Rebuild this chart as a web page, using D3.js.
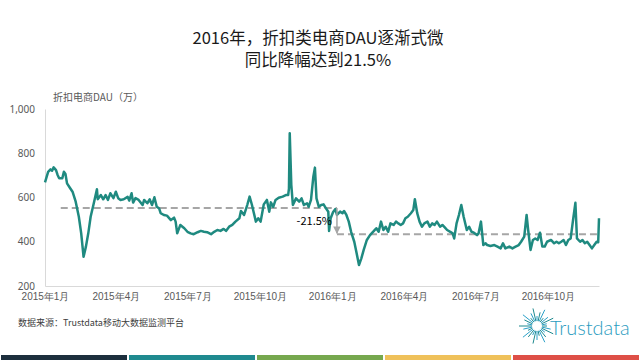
<!DOCTYPE html>
<html><head><meta charset="utf-8">
<script src="https://cdn.jsdelivr.net/npm/d3@7"></script>
<style>
html,body{margin:0;padding:0;background:#fff;}
svg{display:block;font-family:"Noto Sans CJK SC","Noto Sans",sans-serif;}
</style></head>
<body><svg id="c" width="640" height="360"></svg>
<script>
// ---- data ----
const titleLines = ["2016年，折扣类电商DAU逐渐式微", "同比降幅达到21.5%"];
const yTitle = "折扣电商DAU（万）";
const source = "数据来源：Trustdata移动大数据监测平台";
const startDate = "2015-01-01";
const endDate = "2016-12-05";
// days since 2015-01-01
const dayOffsets = [0,4,7,9,11,14,16,18,22,24,26,28,32,35,39,43,46,49,52,55,58,62,66,67,71,74,77,80,83,87,90,93,96,100,105,107,110,112,115,119,124,126,130,133,136,139,142,145,147,151,155,160,164,166,168,172,177,181,185,189,194,198,202,206,211,215,219,223,227,230,234,238,242,247,249,253,257,260,263,268,271,274,276,278,282,285,287,290,293,297,302,306,309,310,311,313,315,319,323,326,329,333,335,338,341,343,345,348,351,354,357,360,361,363,366,369,371,375,378,380,383,386,389,393,396,399,402,405,409,413,418,421,424,427,430,433,436,439,443,446,449,452,455,458,461,465,468,470,473,476,479,482,486,489,492,495,498,502,505,508,511,515,518,520,523,526,529,532,536,539,542,545,549,551,554,557,560,562,566,571,575,579,582,585,590,594,598,602,605,609,612,614,617,620,623,626,629,632,635,638,643,647,650,653,656,659,662,665,668,671,674,676,680,683,686,689,692,695,698,701,703,704];
const dauValues = [668,716,727,721,736,724,702,687,687,716,706,664,642,626,581,513,438,332,378,438,513,574,637,592,611,592,611,589,619,597,626,597,589,592,603,586,619,577,597,589,566,589,574,592,566,601,558,551,529,521,518,498,509,491,438,476,461,445,438,434,443,449,445,443,434,445,453,449,458,449,468,476,491,506,539,521,566,604,566,491,506,491,530,569,589,536,578,558,589,599,604,611,611,640,890,656,566,596,581,596,566,574,558,589,694,735,596,558,566,569,551,536,449,506,533,548,521,536,529,539,521,491,445,400,348,295,325,363,408,430,449,461,445,491,453,468,445,483,476,491,483,476,483,506,513,529,543,592,529,491,468,483,491,468,483,476,491,468,476,465,453,445,438,415,483,521,566,513,453,468,445,441,430,438,491,385,393,385,381,385,378,370,393,370,378,370,378,385,400,423,521,453,363,408,415,408,441,378,378,400,408,393,400,393,400,408,385,408,415,498,576,415,400,408,393,400,385,370,385,400,398,506];
const yTicks = [200, 400, 600, 800, 1000];
const xTickDates = ["2015-01-01","2015-04-01","2015-07-01","2015-10-01","2016-01-01","2016-04-01","2016-07-01","2016-10-01"];
const avg2015 = 553, avg2016 = 434;
const refStartDay = 20, refSplitDay = 371;
const changeLabel = "-21.5%";
const barColors = ["#1d2f3d","#1f8a8f","#76a84e","#efc15a","#de4f47"];

// ---- chart ----
const svg = d3.select("#c");
const parse = d3.timeParse("%Y-%m-%d");
const t0 = parse(startDate);
const data = dayOffsets.map((d,i)=>({date:d3.timeDay.offset(t0,d), v:dauValues[i]}));

const x = d3.scaleTime().domain([t0, parse(endDate)]).range([45, 599]);
const y = d3.scaleLinear().domain([200, 1000]).range([286, 109]);

// titles
svg.append("g").selectAll("text").data(titleLines).join("text")
  .attr("x", 318).attr("y",(d,i)=>44+i*22).attr("text-anchor","middle")
  .attr("font-size",16.5).attr("fill","#1a1a1a").text(d=>d);

// y axis
const yAxis = svg.append("g").attr("transform","translate(45,0)")
  .call(d3.axisLeft(y).tickValues(yTicks).tickFormat(d3.format(",")).tickSize(0).tickPadding(10));
yAxis.select(".domain").attr("stroke","#d9d9d9");
yAxis.selectAll("text").attr("font-size",10).attr("fill","#595959").attr("font-family","'Noto Sans',sans-serif");

// x axis
const xAxis = svg.append("g").attr("transform","translate(0,286)")
  .call(d3.axisBottom(x).tickValues(xTickDates.map(parse)).tickFormat(d=>d.getFullYear()+"年"+(d.getMonth()+1)+"月").tickSize(0).tickPadding(7));
xAxis.select(".domain").attr("stroke","#d9d9d9");
xAxis.selectAll("text").attr("font-size",10).attr("fill","#595959");

svg.append("text").attr("x",53).attr("y",101).attr("font-size",10).attr("fill","#595959").text(yTitle);

// reference lines
const dDay = d=>d3.timeDay.offset(t0,d);
svg.append("line").attr("x1",x(dDay(refStartDay))).attr("x2",x(dDay(refSplitDay)))
  .attr("y1",y(avg2015)).attr("y2",y(avg2015))
  .attr("stroke","#a6a6a6").attr("stroke-width",2).attr("stroke-dasharray","7,4");
svg.append("line").attr("x1",x(dDay(refSplitDay))).attr("x2",x(parse(endDate)))
  .attr("y1",y(avg2016)).attr("y2",y(avg2016))
  .attr("stroke","#a6a6a6").attr("stroke-width",2).attr("stroke-dasharray","7,4");

// line
svg.append("path").datum(data)
  .attr("d", d3.line().x(d=>x(d.date)).y(d=>y(d.v)))
  .attr("fill","none").attr("stroke","#1f8a80").attr("stroke-width",2.5).attr("stroke-linejoin","round");

// arrow
svg.append("defs").append("marker").attr("id","ah").attr("viewBox","0 0 10 10")
  .attr("refX",9).attr("refY",5).attr("markerWidth",5).attr("markerHeight",5).attr("orient","auto")
  .append("path").attr("d","M0,0L10,5L0,10z").attr("fill","#a6a6a6");
svg.append("line").attr("x1",x(dDay(refSplitDay))).attr("x2",x(dDay(refSplitDay)))
  .attr("y1",y(avg2015)).attr("y2",y(avg2016)-1)
  .attr("stroke","#a6a6a6").attr("stroke-width",1.5).attr("marker-end","url(#ah)");
svg.append("text").attr("x",x(dDay(refSplitDay))-5).attr("y",(y(avg2015)+y(avg2016))/2+4)
  .attr("text-anchor","end").attr("font-size",11).attr("fill","#000").text(changeLabel);

// source
svg.append("text").attr("x",18).attr("y",326).attr("font-size",9).attr("fill","#404040").text(source);

// bottom colour bars
svg.append("g").selectAll("rect").data(barColors).join("rect")
  .attr("x",(d,i)=>i*128+1).attr("y",355).attr("width",126).attr("height",5).attr("fill",d=>d);

// logo
const logo = svg.append("g").attr("transform","translate(537,326)");
const rays = d3.range(28);
logo.selectAll("line").data(rays).join("line")
  .attr("x1",d=>Math.cos(d/28*2*Math.PI)*5).attr("y1",d=>Math.sin(d/28*2*Math.PI)*5)
  .attr("x2",d=>Math.cos(d/28*2*Math.PI)*(10+(d%3)*4)).attr("y2",d=>Math.sin(d/28*2*Math.PI)*(10+(d%3)*4))
  .attr("stroke",d=>d%2?"#2aa0c8":"#1f8a8f").attr("stroke-width",1);
svg.append("text").attr("x",550).attr("y",335).attr("font-size",20).attr("font-weight",300)
  .attr("fill","#2b9cc0").attr("font-family","Lato,'Open Sans',sans-serif").text("Trustdata");
</script></body></html>
